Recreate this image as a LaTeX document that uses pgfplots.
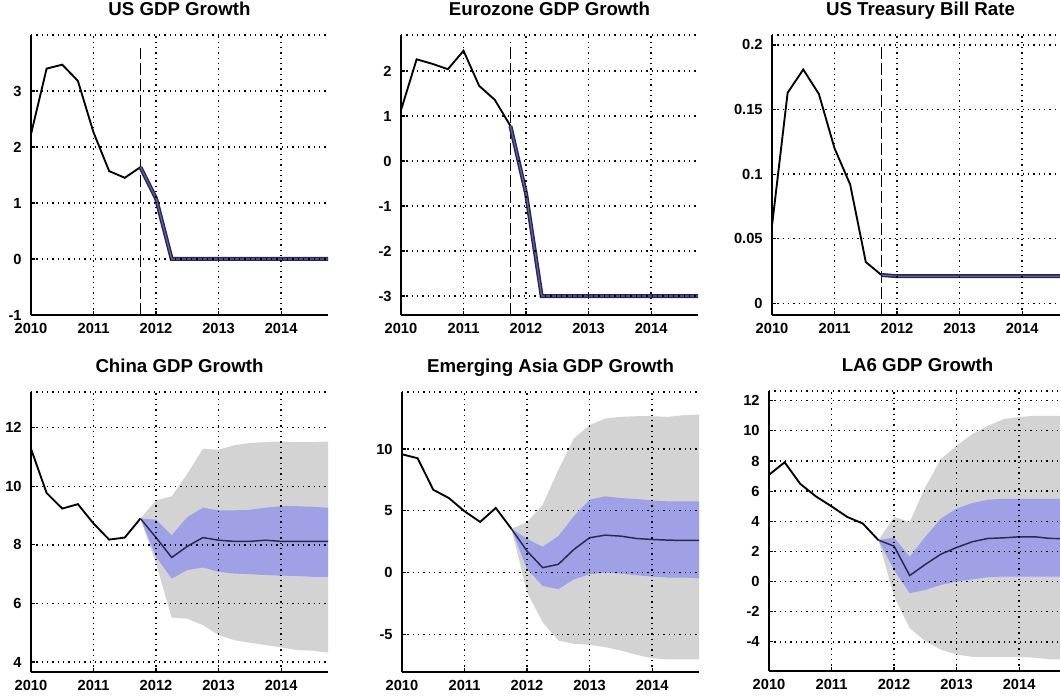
\documentclass[border=0pt]{standalone}
\usepackage{fontspec}
\setmainfont{Liberation Sans}
\usepackage{pgfplots}
\pgfplotsset{compat=1.18}

\definecolor{bandgray}{RGB}{211,211,211}
\definecolor{bandblue}{RGB}{160,160,230}
\definecolor{fcnavy}{RGB}{40,40,80}
\definecolor{fcblue}{RGB}{95,95,170}

% 1 px of the reference = 0.75pt
\pgfplotsset{
  panel/.style={
    scale only axis, width=222.75pt, height=210pt, anchor=north west,
    axis x line=bottom, axis y line=left,
    axis line style={-, line width=1.2pt},
    xmin=2010, xmax=2014.75, xtick={2010,2011,2012,2013,2014},
    xmajorgrids, ymajorgrids, axis on top,
    grid style={black, line width=1pt, dash pattern=on 1pt off 3pt},
    tick align=inside, major tick length=3pt, tick style={black, line width=0.9pt},
    /pgf/number format/fixed, /pgf/number format/1000 sep={},
    /pgf/number format/assume math mode=true,
    ticklabel style={font=\bfseries\fontsize{11}{13}\selectfont},
    xticklabel style={yshift=-3pt},
    yticklabel style={xshift=-3.5pt},
    title style={font=\bfseries\fontsize{14}{16}\selectfont, at={(0.5,1)}, anchor=base, yshift=8.25pt},
    extra y tick labels={},
    extra y tick style={ymajorgrids, major tick length=0pt},
  },
  hist/.style={black, line width=1.4pt},
  fcwide/.style={fcnavy, line width=3pt},
  fcthin/.style={fcblue, line width=0.9pt},
  fcline/.style={fcnavy, line width=1.1pt},
  vline/.style={black, line width=1pt, dash pattern=on 9pt off 3pt},
}

\begin{document}
\begin{tikzpicture}

% ---- US GDP Growth
\begin{axis}[panel, at={(23.25pt,495.75pt)}, title={US GDP Growth},
  ymin=-1, ymax=4, ytick={-1,0,1,2,3}, extra y ticks={4}]
\addplot[vline] coordinates {(2011.75,-1) (2011.75,3.77)};
\addplot[hist] coordinates {(2010,2.23) (2010.25,3.40) (2010.5,3.47) (2010.75,3.18) (2011,2.26) (2011.25,1.57) (2011.5,1.45) (2011.75,1.64)};
\addplot[fcwide] coordinates {(2011.75,1.64) (2012,1.08) (2012.25,0) (2012.5,0) (2013,0) (2014,0) (2014.75,0)};
\addplot[fcthin] coordinates {(2011.75,1.64) (2012,1.08) (2012.25,0) (2012.5,0) (2013,0) (2014,0) (2014.75,0)};
\end{axis}

% ---- Eurozone GDP Growth
\begin{axis}[panel, at={(300.75pt,495.75pt)}, title={Eurozone GDP Growth},
  ymin=-3.42, ymax=2.8, ytick={-3,-2,-1,0,1,2}, extra y ticks={2.8}]
\addplot[vline] coordinates {(2011.75,-3.42) (2011.75,2.65)};
\addplot[hist] coordinates {(2010,1.13) (2010.25,2.26) (2010.5,2.16) (2010.75,2.04) (2011,2.45) (2011.25,1.67) (2011.5,1.36) (2011.75,0.78)};
\addplot[fcwide] coordinates {(2011.75,0.78) (2012,-0.72) (2012.25,-3) (2012.5,-3) (2013,-3) (2014,-3) (2014.75,-3)};
\addplot[fcthin] coordinates {(2011.75,0.78) (2012,-0.72) (2012.25,-3) (2012.5,-3) (2013,-3) (2014,-3) (2014.75,-3)};
\end{axis}

% ---- US Treasury Bill Rate
\begin{axis}[panel, at={(579pt,495.75pt)}, title={US Treasury Bill Rate},
  ymin=-0.009, ymax=0.2077, ytick={0,0.05,0.1,0.15,0.2}, extra y ticks={0.2077}]
\addplot[vline] coordinates {(2011.75,-0.009) (2011.75,0.199)};
\addplot[hist] coordinates {(2010,0.060) (2010.25,0.163) (2010.5,0.181) (2010.75,0.162) (2011,0.120) (2011.25,0.092) (2011.5,0.032) (2011.75,0.022)};
\addplot[fcwide] coordinates {(2011.75,0.022) (2012,0.021) (2013,0.021) (2014,0.021) (2014.75,0.021)};
\addplot[fcthin] coordinates {(2011.75,0.022) (2012,0.021) (2013,0.021) (2014,0.021) (2014.75,0.021)};
\end{axis}

% ---- China GDP Growth
\begin{axis}[panel, at={(23.25pt,228pt)}, title={China GDP Growth},
  ymin=3.66, ymax=13.22, ytick={4,6,8,10,12}, extra y ticks={13.22}]
\addplot[fill=bandgray, draw=none] coordinates {
  (2011.75,8.90) (2012,9.52) (2012.25,9.66) (2012.5,10.43) (2012.75,11.28) (2013,11.25) (2013.25,11.40) (2013.5,11.48) (2013.75,11.51) (2014,11.53) (2014.25,11.51) (2014.5,11.51) (2014.75,11.53)
  (2014.75,4.32) (2014.5,4.39) (2014.25,4.41) (2014,4.50) (2013.75,4.58) (2013.5,4.66) (2013.25,4.75) (2013,4.92) (2012.75,5.26) (2012.5,5.48) (2012.25,5.52) (2012,7.36)} -- cycle;
\addplot[fill=bandblue, draw=none] coordinates {
  (2011.75,8.90) (2012,8.86) (2012.25,8.33) (2012.5,8.95) (2012.75,9.27) (2013,9.18) (2013.25,9.18) (2013.5,9.20) (2013.75,9.27) (2014,9.32) (2014.25,9.32) (2014.5,9.30) (2014.75,9.27)
  (2014.75,6.91) (2014.5,6.91) (2014.25,6.94) (2014,6.95) (2013.75,6.97) (2013.5,7.00) (2013.25,7.02) (2013,7.08) (2012.75,7.23) (2012.5,7.14) (2012.25,6.85) (2012,7.59)} -- cycle;
\addplot[hist] coordinates {(2010,11.28) (2010.25,9.77) (2010.5,9.24) (2010.75,9.39) (2011,8.73) (2011.25,8.18) (2011.5,8.25) (2011.75,8.90)};
\addplot[fcline] coordinates {(2011.75,8.90) (2012,8.25) (2012.25,7.57) (2012.5,7.95) (2012.75,8.25) (2013,8.16) (2013.25,8.12) (2013.5,8.12) (2013.75,8.16) (2014,8.12) (2014.25,8.12) (2014.5,8.12) (2014.75,8.12)};
\end{axis}

% ---- Emerging Asia GDP Growth
\begin{axis}[panel, at={(301.5pt,228pt)}, title={Emerging Asia GDP Growth},
  ymin=-8.04, ymax=14.61, ytick={-5,0,5,10}, extra y ticks={14.61}]
\addplot[fill=bandgray, draw=none] coordinates {
  (2011.75,3.54) (2012,4.07) (2012.25,5.50) (2012.5,8.30) (2012.75,10.86) (2013,11.93) (2013.25,12.47) (2013.5,12.60) (2013.75,12.65) (2014,12.65) (2014.25,12.60) (2014.5,12.73) (2014.75,12.79)
  (2014.75,-7.02) (2014.5,-7.02) (2014.25,-7.02) (2014,-6.92) (2013.75,-6.65) (2013.5,-6.30) (2013.25,-6.03) (2013,-5.84) (2012.75,-5.76) (2012.5,-5.50) (2012.25,-4.02) (2012,-1.60)} -- cycle;
\addplot[fill=bandblue, draw=none] coordinates {
  (2011.75,3.54) (2012,2.73) (2012.25,2.09) (2012.5,2.95) (2012.75,4.56) (2013,5.90) (2013.25,6.17) (2013.5,6.03) (2013.75,5.95) (2014,5.84) (2014.25,5.76) (2014.5,5.76) (2014.75,5.76)
  (2014.75,-0.46) (2014.5,-0.40) (2014.25,-0.40) (2014,-0.32) (2013.75,-0.21) (2013.5,-0.08) (2013.25,0.00) (2013,-0.13) (2012.75,-0.54) (2012.5,-1.34) (2012.25,-1.07) (2012,0.27)} -- cycle;
\addplot[hist] coordinates {(2010,9.57) (2010.25,9.25) (2010.5,6.70) (2010.75,6.03) (2011,4.96) (2011.25,4.10) (2011.5,5.23) (2011.75,3.54)};
\addplot[fcline] coordinates {(2011.75,3.54) (2012,1.74) (2012.25,0.40) (2012.5,0.67) (2012.75,1.88) (2013,2.82) (2013.25,3.03) (2013.5,2.95) (2013.75,2.76) (2014,2.68) (2014.25,2.63) (2014.5,2.60) (2014.75,2.60)};
\end{axis}

% ---- LA6 GDP Growth
\begin{axis}[panel, at={(576.75pt,228.75pt)}, title={LA6 GDP Growth},
  ymin=-5.93, ymax=12.64, ytick={-4,-2,0,2,4,6,8,10,12}, extra y ticks={12.64}]
\addplot[fill=bandgray, draw=none] coordinates {
  (2011.75,2.75) (2012,4.29) (2012.25,3.96) (2012.5,6.26) (2012.75,8.13) (2013,9.01) (2013.25,9.78) (2013.5,10.33) (2013.75,10.77) (2014,10.92) (2014.25,10.99) (2014.5,10.99) (2014.75,10.99)
  (2014.75,-5.16) (2014.5,-5.16) (2014.25,-5.05) (2014,-4.99) (2013.75,-4.99) (2013.5,-4.99) (2013.25,-4.99) (2013,-4.84) (2012.75,-4.51) (2012.5,-3.96) (2012.25,-3.08) (2012,-0.99)} -- cycle;
\addplot[fill=bandblue, draw=none] coordinates {
  (2011.75,2.75) (2012,2.92) (2012.25,1.65) (2012.5,2.97) (2012.75,4.18) (2013,4.84) (2013.25,5.21) (2013.5,5.43) (2013.75,5.49) (2014,5.49) (2014.25,5.49) (2014.5,5.49) (2014.75,5.49)
  (2014.75,0.33) (2014.5,0.33) (2014.25,0.33) (2014,0.33) (2013.75,0.33) (2013.5,0.29) (2013.25,0.15) (2013,0.00) (2012.75,-0.22) (2012.5,-0.55) (2012.25,-0.77) (2012,0.77)} -- cycle;
\addplot[hist] coordinates {(2010,7.08) (2010.25,7.91) (2010.5,6.48) (2010.75,5.65) (2011,4.99) (2011.25,4.29) (2011.5,3.85) (2011.75,2.75)};
\addplot[fcline] coordinates {(2011.75,2.75) (2012,2.35) (2012.25,0.40) (2012.5,1.14) (2012.75,1.82) (2013,2.26) (2013.25,2.64) (2013.5,2.86) (2013.75,2.90) (2014,2.97) (2014.25,2.97) (2014.5,2.86) (2014.75,2.85)};
\end{axis}

\pgfresetboundingbox
\path[use as bounding box] (0,0) rectangle (795pt,522pt);
\end{tikzpicture}
\end{document}
